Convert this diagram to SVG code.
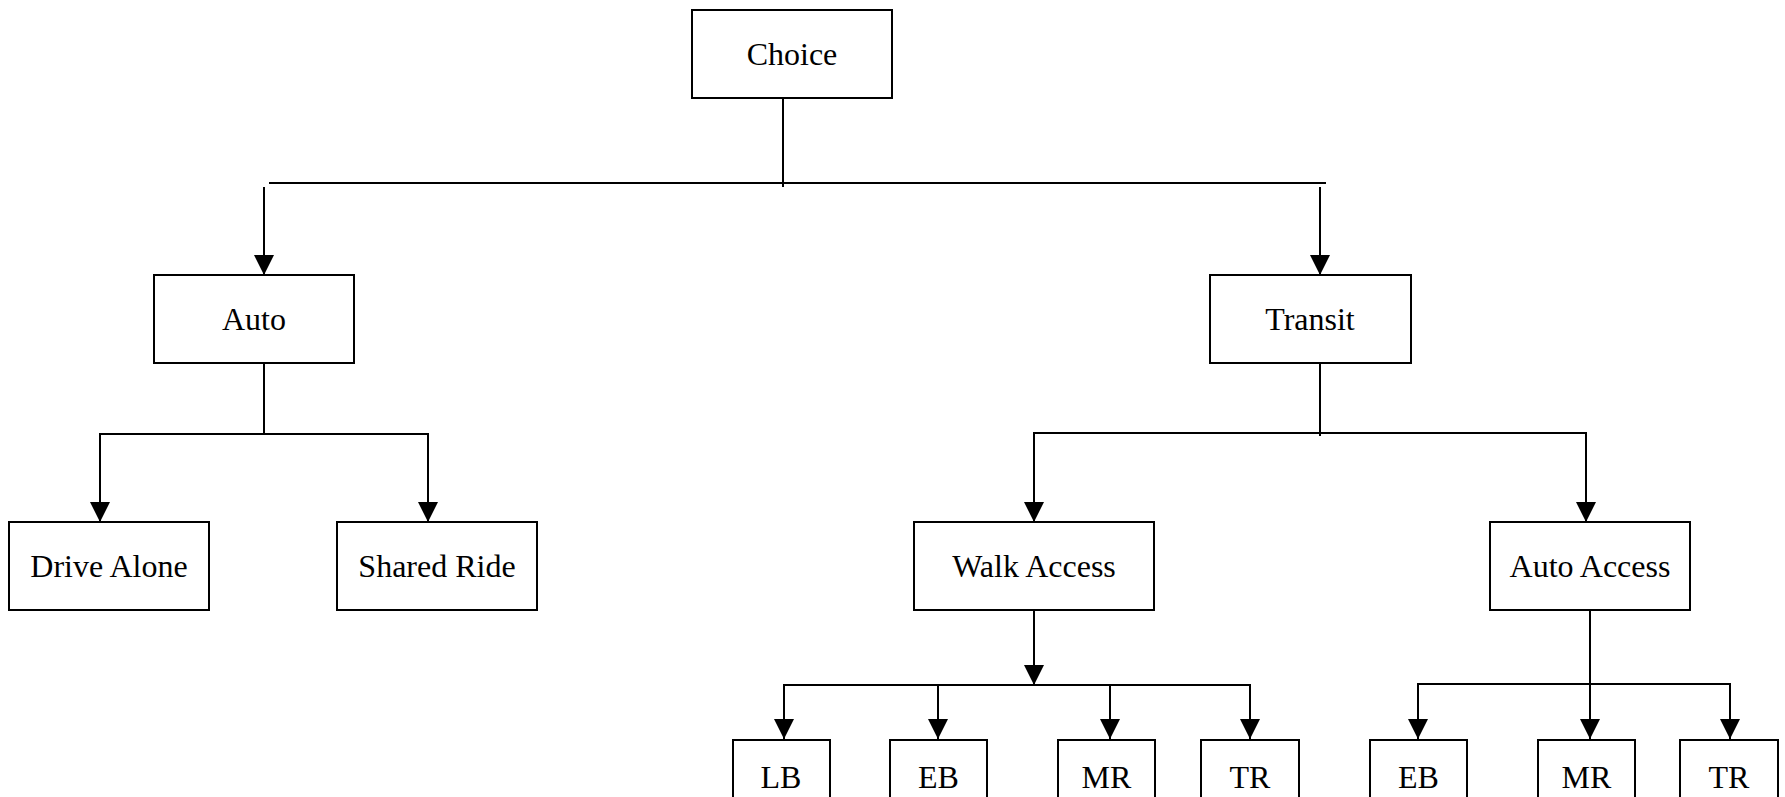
<svg xmlns="http://www.w3.org/2000/svg" width="1785" height="797" viewBox="0 0 1785 797">
  <style>
    .box { fill: #ffffff; stroke: #000000; stroke-width: 2; }
    .lbl { font-family: "Liberation Serif", "Times New Roman", serif; font-size: 32px; fill: #000000; text-anchor: middle; }
    .ln { fill: none; stroke: #000000; stroke-width: 2; }
    .arr { fill: none; stroke: #000000; stroke-width: 2; marker-end: url(#head); }
  </style>
  <defs>
    <marker id="head" viewBox="0 0 20 20" refX="20" refY="10" markerWidth="20" markerHeight="20" markerUnits="userSpaceOnUse" orient="auto">
      <path d="M0,0 L20,10 L0,20 z" fill="#000000"/>
    </marker>
  </defs>
  <rect width="1785" height="797" fill="#ffffff"/>

  <g id="connectors">
    <!-- Choice to top split -->
    <line class="ln" x1="783" y1="98" x2="783" y2="187"/>
    <line class="ln" x1="269" y1="183" x2="1326" y2="183"/>
    <line class="arr" x1="264" y1="187" x2="264" y2="275"/>
    <line class="arr" x1="1320" y1="187" x2="1320" y2="275"/>
    <!-- Auto split -->
    <line class="ln" x1="264" y1="363" x2="264" y2="434"/>
    <line class="ln" x1="100" y1="434" x2="428" y2="434"/>
    <line class="arr" x1="100" y1="433" x2="100" y2="522"/>
    <line class="arr" x1="428" y1="433" x2="428" y2="522"/>
    <!-- Transit split -->
    <line class="ln" x1="1320" y1="363" x2="1320" y2="436"/>
    <line class="ln" x1="1034" y1="433" x2="1586" y2="433"/>
    <line class="arr" x1="1034" y1="432" x2="1034" y2="522"/>
    <line class="arr" x1="1586" y1="432" x2="1586" y2="522"/>
    <!-- Walk Access split -->
    <line class="arr" x1="1034" y1="610" x2="1034" y2="685"/>
    <line class="ln" x1="784" y1="685" x2="1250" y2="685"/>
    <line class="arr" x1="784" y1="684" x2="784" y2="739"/>
    <line class="arr" x1="938" y1="684" x2="938" y2="739"/>
    <line class="arr" x1="1110" y1="684" x2="1110" y2="739"/>
    <line class="arr" x1="1250" y1="684" x2="1250" y2="739"/>
    <!-- Auto Access split -->
    <line class="ln" x1="1418" y1="684" x2="1730" y2="684"/>
    <line class="arr" x1="1590" y1="610" x2="1590" y2="739"/>
    <line class="arr" x1="1418" y1="683" x2="1418" y2="739"/>
    <line class="arr" x1="1730" y1="683" x2="1730" y2="739"/>
  </g>

  <g id="choice"><rect class="box" x="692" y="10" width="200" height="88"/><text class="lbl" x="792" y="65">Choice</text></g>
  <g id="auto"><rect class="box" x="154" y="275" width="200" height="88"/><text class="lbl" x="254" y="330">Auto</text></g>
  <g id="transit"><rect class="box" x="1210" y="275" width="201" height="88"/><text class="lbl" x="1310" y="330">Transit</text></g>
  <g id="drive-alone"><rect class="box" x="9" y="522" width="200" height="88"/><text class="lbl" x="109" y="577">Drive Alone</text></g>
  <g id="shared-ride"><rect class="box" x="337" y="522" width="200" height="88"/><text class="lbl" x="437" y="577">Shared Ride</text></g>
  <g id="walk-access"><rect class="box" x="914" y="522" width="240" height="88"/><text class="lbl" x="1034" y="577">Walk Access</text></g>
  <g id="auto-access"><rect class="box" x="1490" y="522" width="200" height="88"/><text class="lbl" x="1590" y="577">Auto Access</text></g>
  <g id="walk-lb"><rect class="box" x="733" y="740" width="97" height="88"/><text class="lbl" x="781" y="788">LB</text></g>
  <g id="walk-eb"><rect class="box" x="890" y="740" width="97" height="88"/><text class="lbl" x="938.5" y="788">EB</text></g>
  <g id="walk-mr"><rect class="box" x="1058" y="740" width="97" height="88"/><text class="lbl" x="1106.5" y="788">MR</text></g>
  <g id="walk-tr"><rect class="box" x="1201" y="740" width="98" height="88"/><text class="lbl" x="1250" y="788">TR</text></g>
  <g id="auto-eb"><rect class="box" x="1370" y="740" width="97" height="88"/><text class="lbl" x="1418.5" y="788">EB</text></g>
  <g id="auto-mr"><rect class="box" x="1538" y="740" width="97" height="88"/><text class="lbl" x="1586.5" y="788">MR</text></g>
  <g id="auto-tr"><rect class="box" x="1680" y="740" width="98" height="88"/><text class="lbl" x="1729" y="788">TR</text></g>
</svg>
